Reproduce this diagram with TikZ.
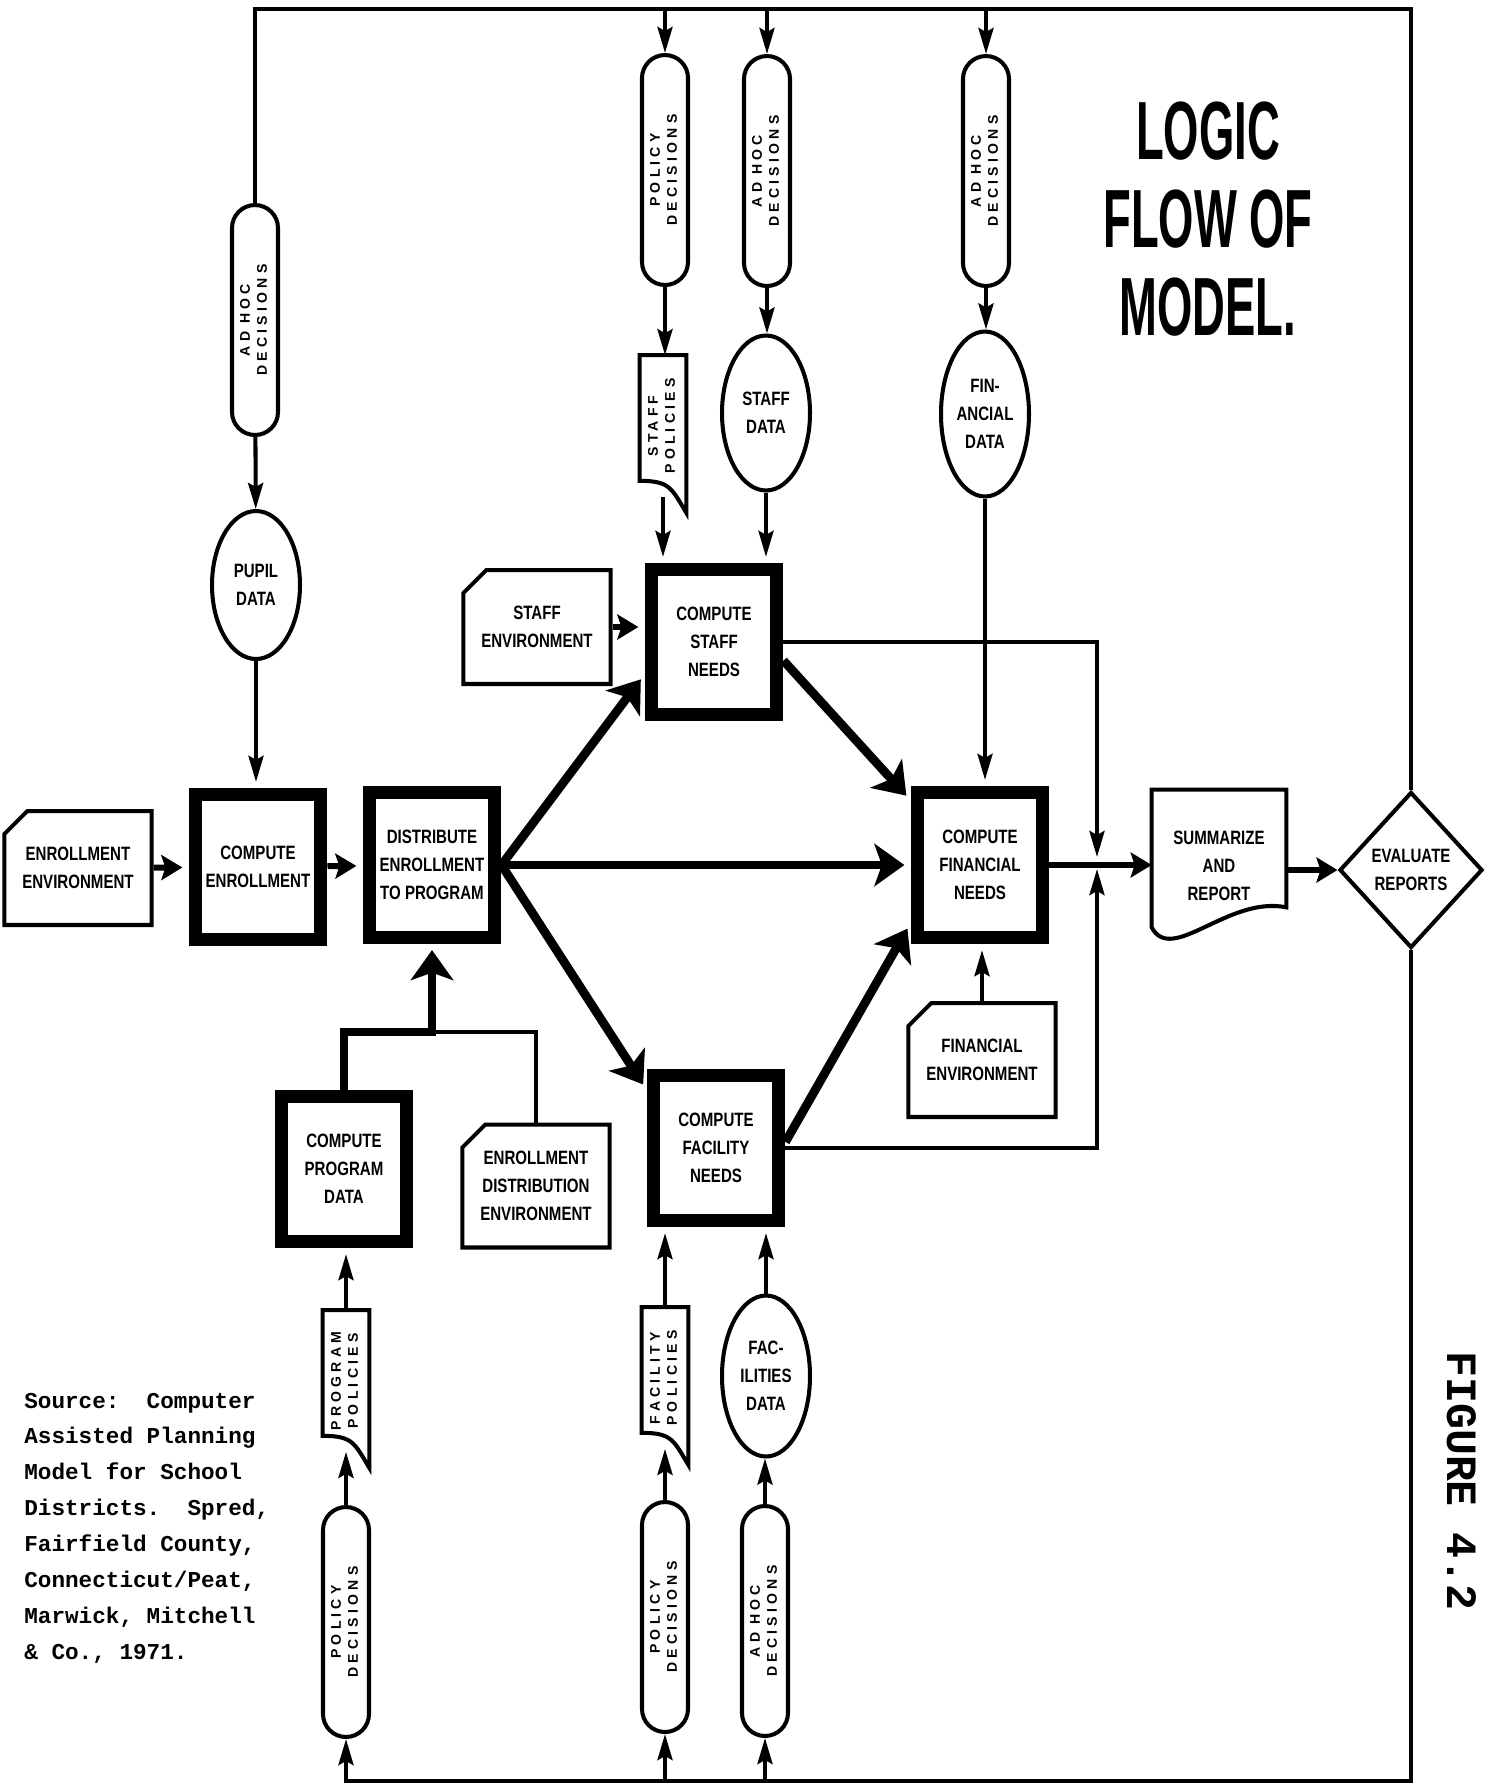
\documentclass[tikz,border=0pt]{standalone}
\usepackage{fontspec}
\usepackage{tikz}
\usetikzlibrary{arrows.meta, shapes.geometric, shapes.misc}

\newfontfamily\boxfont[FakeStretch=0.78]{Liberation Sans}
\newfontfamily\sidefont[LetterSpace=30]{Liberation Sans}
\newfontfamily\titlefont[FakeStretch=0.55]{Liberation Sans}
\newfontfamily\notefont{Liberation Mono}

\newcommand{\sidelabel}[2]{\rotatebox{90}{\sidefont\bfseries\fontsize{8}{9.6}\selectfont\begin{tabular}{@{}c@{}}#1\\#2\end{tabular}}}

\begin{document}
\begin{tikzpicture}[x=0.02cm, y=-0.02cm,
    ln/.style={line width=2.3pt},
    arr/.style={ln, -{Stealth[length=0.52cm, width=0.3cm, inset=0.08cm]}},
    medarr/.style={line width=3.4pt, -{Stealth[length=0.42cm, width=0.5cm, inset=0.08cm]}},
    fatarr/.style={line width=5pt, shorten >=3.5pt, -{Stealth[length=0.6cm, width=0.85cm, inset=0.15cm]}},
    into/.style={shorten >=3.5pt},
    txt/.style={font=\boxfont\bfseries\fontsize{11}{16}\selectfont, align=center, inner sep=0pt},
    procbox/.style={txt, draw, line width=7.4pt, minimum width=2.52cm, minimum height=2.9cm},
    envcard/.style={txt, draw, line width=2.3pt, chamfered rectangle, chamfered rectangle corners=north west, chamfered rectangle xsep=0.36cm, minimum width=2.74cm, minimum height=2.28cm},
    decision/.style={draw, line width=2.3pt, rounded corners=0.46cm, minimum width=0.92cm, minimum height=4.6cm, inner sep=0pt},
    datafile/.style={txt, draw, line width=2.3pt, ellipse, minimum width=1.76cm, minimum height=3.1cm},
    policydoc/.style={inner sep=0pt, minimum width=0.92cm, minimum height=2.82cm},
]
    \useasboundingbox (0,0) rectangle (1492,1786);

    \node[decision] (adhoc1) at (255,320) {\sidelabel{AD HOC}{DECISIONS}};
    \node[decision] (pd1) at (665,170) {\sidelabel{POLICY}{DECISIONS}};
    \node[decision] (adhoc2) at (767,171) {\sidelabel{AD HOC}{DECISIONS}};
    \node[decision] (adhoc3) at (986,171) {\sidelabel{AD HOC}{DECISIONS}};
    \node[decision] (pd2) at (346,1622) {\sidelabel{POLICY}{DECISIONS}};
    \node[decision] (pd3) at (665,1617) {\sidelabel{POLICY}{DECISIONS}};
    \node[decision] (adhoc4) at (765,1621) {\sidelabel{AD HOC}{DECISIONS}};

    \node[datafile, minimum height=2.96cm] (pupil) at (256,585) {PUPIL\\DATA};
    \node[datafile] (staffd) at (766,413) {STAFF\\DATA};
    \node[datafile, minimum height=3.3cm] (find) at (985,414) {FIN-\\ANCIAL\\DATA};
    \node[datafile, minimum height=3.22cm] (facd) at (766,1376) {FAC-\\ILITIES\\DATA};

    \node[policydoc] (stpol) at (663,426) {\sidelabel{STAFF}{POLICIES}};
    \node[policydoc] (prpol) at (346,1381) {\sidelabel{PROGRAM}{POLICIES}};
    \node[policydoc] (fapol) at (665,1378) {\sidelabel{FACILITY}{POLICIES}};
    \foreach \n in {stpol, prpol, fapol}
        \draw[ln] ([yshift=0.32cm]\n.south west) -- (\n.north west) -- (\n.north east) -- ([yshift=-0.32cm]\n.south east)
            .. controls +(-15,-25) and +(30,0) .. ([yshift=0.32cm]\n.south west) -- cycle;

    \node[procbox] (cenr) at (258,867) {COMPUTE\\ENROLLMENT};
    \node[procbox] (dist) at (432,865) {DISTRIBUTE\\ENROLLMENT\\TO PROGRAM};
    \node[procbox] (staffn) at (714,642) {COMPUTE\\STAFF\\NEEDS};
    \node[procbox] (finn) at (980,865) {COMPUTE\\FINANCIAL\\NEEDS};
    \node[procbox] (facn) at (716,1148) {COMPUTE\\FACILITY\\NEEDS};
    \node[procbox] (progd) at (344,1169) {COMPUTE\\PROGRAM\\DATA};

    \node[envcard] (enrenv) at (78,868) {ENROLLMENT\\ENVIRONMENT};
    \node[envcard] (staffenv) at (537,627) {STAFF\\ENVIRONMENT};
    \node[envcard, minimum height=2.46cm] (distenv) at (536,1186) {ENROLLMENT\\DISTRIBUTION\\ENVIRONMENT};
    \node[envcard] (finenv) at (982,1060) {FINANCIAL\\ENVIRONMENT};

    \node[txt, minimum width=2.68cm, minimum height=3.04cm] (summ) at (1219,866) {SUMMARIZE\\AND\\REPORT};
    \draw[ln] (summ.north west) -- (summ.north east) -- ([yshift=0.7cm]summ.south east)
        .. controls +(-58,-12) and +(20,38) .. ([yshift=0.3cm]summ.south west) -- cycle;
    \node[txt, draw, line width=2.3pt, diamond, minimum width=2.86cm, minimum height=3.12cm] (eval) at (1411,870) {EVALUATE\\REPORTS};

    \node[font=\titlefont\bfseries\fontsize{47}{50}\selectfont, align=center, inner sep=0pt] (title) at (1208,219) {LOGIC\\FLOW OF\\MODEL.};
    \node[font=\notefont\bfseries\fontsize{12.9}{20.4}\selectfont, align=left, anchor=west, inner sep=0pt] (src) at (24,1528)
        {Source:~~Computer\\Assisted Planning\\Model for School\\Districts.~~Spred,\\Fairfield County,\\Connecticut/Peat,\\Marwick, Mitchell\\\& Co., 1971.};
    \node[font=\notefont\bfseries\fontsize{24.6}{28}\selectfont, inner sep=0pt] (fig) at (1462,1481) {\rotatebox{-90}{FIGURE 4.2}};

    \coordinate (tr) at (1411,9);
    \coordinate (bl) at (346,1781);
    \coordinate (jn) at (1097,863);
    \coordinate (mrg) at (432,1032);

    \draw[ln] (adhoc1.north) |- (tr) -- (eval.north);
    \foreach \n in {pd1, adhoc2, adhoc3}
        \draw[arr] (\n |- tr) -- (\n.north);
    \draw[arr] (eval.south) |- (bl) -- (pd2.south);
    \foreach \n in {pd3, adhoc4}
        \draw[arr] (\n |- bl) -- (\n.south);

    \draw[arr] (adhoc1) -- (pupil);
    \draw[arr, into] (pupil.south) -- (pupil.south |- cenr.north);
    \draw[arr] (pd1.south) -- (pd1.south |- stpol.north);
    \draw[arr, into] (stpol.south) -- (stpol.south |- staffn.north);
    \draw[arr] (adhoc2.south) -- (adhoc2.south |- staffd.north);
    \draw[arr, into] (staffd.south) -- (staffd.south |- staffn.north);
    \draw[arr] (adhoc3.south) -- (adhoc3.south |- find.north);
    \draw[arr, into] (find.south) -- (find.south |- finn.north);

    \draw[medarr, into] (staffenv.east) -- (staffenv.east -| staffn.west);
    \draw[medarr, into] (enrenv) -- (cenr);
    \draw[medarr, into] (cenr) -- (dist);
    \draw[arr, into] (finenv.north) -- (finenv.north |- finn.south);

    \draw[fatarr] (dist.east) -- (staffn.205);
    \draw[fatarr] (dist.east) -- (finn.west);
    \draw[fatarr] (dist.east) -- (facn.140);
    \draw[fatarr] (staffn.-15) -- (finn.137);
    \draw[fatarr] (facn.5) -- (finn.220);
    \draw[fatarr] (progd.north) |- (mrg) -- (dist.south);
    \draw[ln] (distenv.north) |- (mrg);

    \draw[arr, shorten >=0.12cm] (staffn.east) -| (jn);
    \draw[arr, shorten >=0.12cm] (facn.east) -| (jn);
    \draw[medarr] (finn.east) -- (finn.east -| summ.west);
    \draw[medarr] (summ.east |- eval.west) -- (eval.west);

    \draw[arr] (pd2.north) -- (prpol.south);
    \draw[arr, into] (prpol.north) -- (prpol.north |- progd.south);
    \draw[arr] (pd3.north) -- (fapol.south);
    \draw[arr, into] (fapol.north) -- (fapol.north |- facn.south);
    \draw[arr] (adhoc4.north) -- (adhoc4.north |- facd.south);
    \draw[arr, into] (facd.north) -- (facd.north |- facn.south);
\end{tikzpicture}
\end{document}
